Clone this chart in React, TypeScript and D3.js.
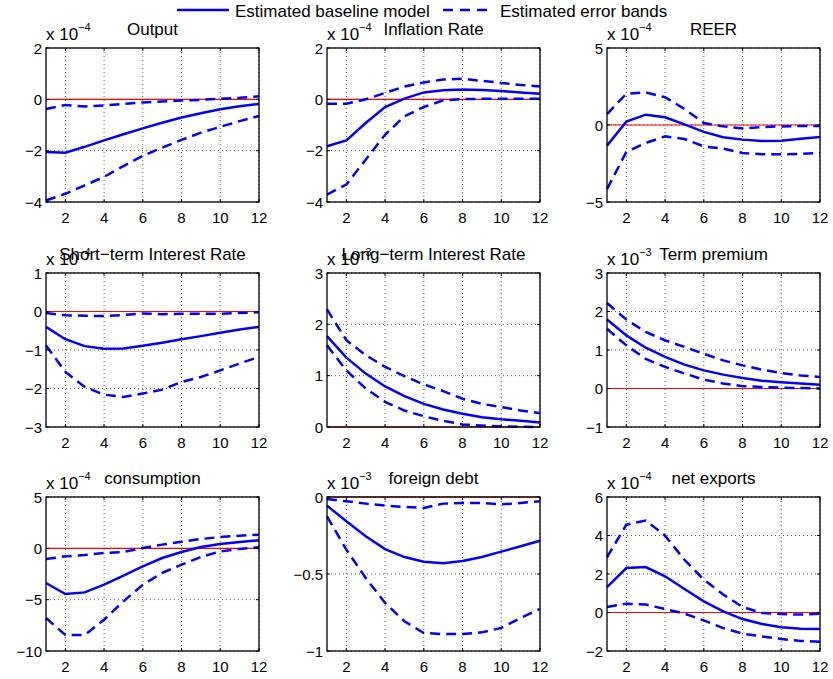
import React from 'react';
import * as d3 from 'd3';

// horizon (quarters)
const periods = [1, 2, 3, 4, 5, 6, 7, 8, 9, 10, 11, 12];
const xTicks = [2, 4, 6, 8, 10, 12];

// Output (x 1e-4)
const outputMid = [-2.05, -2.08, -1.85, -1.6, -1.36, -1.13, -0.91, -0.71, -0.54, -0.39, -0.27, -0.18];
const outputUp = [-0.38, -0.22, -0.28, -0.24, -0.18, -0.12, -0.08, -0.05, -0.02, 0.02, 0.06, 0.12];
const outputLo = [-3.94, -3.68, -3.35, -3.02, -2.6, -2.2, -1.88, -1.58, -1.3, -1.07, -0.85, -0.65];

// Inflation Rate (x 1e-4)
const inflMid = [-1.83, -1.6, -0.92, -0.3, 0.03, 0.27, 0.35, 0.38, 0.36, 0.32, 0.27, 0.22];
const inflUp = [-0.17, -0.17, 0.0, 0.25, 0.5, 0.66, 0.77, 0.8, 0.72, 0.64, 0.56, 0.5];
const inflLo = [-3.71, -3.32, -2.35, -1.38, -0.66, -0.3, -0.04, 0.01, 0.02, 0.02, 0.02, 0.02];

// REER (x 1e-4)
const reerMid = [-1.34, 0.22, 0.67, 0.5, 0.04, -0.45, -0.8, -0.95, -1.04, -1.02, -0.9, -0.78];
const reerUp = [0.71, 2.03, 2.12, 1.8, 1.04, 0.13, -0.09, -0.22, -0.13, -0.09, -0.06, -0.06];
const reerLo = [-4.16, -1.75, -1.17, -0.74, -0.91, -1.39, -1.54, -1.82, -1.9, -1.9, -1.88, -1.82];

// Short-term Interest Rate (x 1e-4)
const shortMid = [-0.4, -0.72, -0.9, -0.97, -0.96, -0.89, -0.81, -0.72, -0.64, -0.55, -0.47, -0.4];
const shortUp = [-0.04, -0.1, -0.11, -0.12, -0.09, -0.05, -0.07, -0.06, -0.06, -0.06, -0.04, -0.02];
const shortLo = [-0.88, -1.57, -1.96, -2.16, -2.22, -2.13, -2.03, -1.83, -1.7, -1.53, -1.35, -1.18];

// Long-term Interest Rate (x 1e-3)
const longMid = [1.77, 1.35, 1.04, 0.79, 0.6, 0.45, 0.34, 0.26, 0.19, 0.15, 0.12, 0.09];
const longUp = [2.29, 1.69, 1.4, 1.17, 0.99, 0.83, 0.7, 0.55, 0.45, 0.39, 0.32, 0.27];
const longLo = [1.59, 1.1, 0.75, 0.49, 0.32, 0.21, 0.12, 0.05, 0.03, 0.01, 0.005, 0.0];

// Term premium (x 1e-3)
const termMid = [1.79, 1.38, 1.06, 0.82, 0.62, 0.47, 0.36, 0.27, 0.2, 0.16, 0.13, 0.1];
const termUp = [2.22, 1.79, 1.47, 1.25, 1.08, 0.9, 0.73, 0.6, 0.49, 0.4, 0.34, 0.3];
const termLo = [1.55, 1.12, 0.77, 0.56, 0.39, 0.23, 0.13, 0.06, 0.04, 0.02, 0.01, 0.0];

// consumption (x 1e-4)
const consMid = [-3.38, -4.45, -4.29, -3.54, -2.66, -1.75, -0.94, -0.36, 0.13, 0.42, 0.62, 0.78];
const consUp = [-1.04, -0.78, -0.65, -0.45, -0.36, 0.03, 0.36, 0.65, 0.91, 1.1, 1.23, 1.33];
const consLo = [-6.79, -8.44, -8.44, -6.95, -5.16, -3.54, -2.4, -1.59, -0.84, -0.29, -0.06, 0.1];

// foreign debt (x 1e-3)
const debtMid = [-0.056, -0.158, -0.255, -0.338, -0.39, -0.42, -0.43, -0.415, -0.39, -0.355, -0.32, -0.284];
const debtUp = [-0.013, -0.028, -0.043, -0.056, -0.065, -0.071, -0.043, -0.039, -0.039, -0.048, -0.039, -0.028];
const debtLo = [-0.126, -0.342, -0.526, -0.688, -0.807, -0.883, -0.89, -0.89, -0.879, -0.85, -0.786, -0.727];

// net exports (x 1e-4)
const nxMid = [1.32, 2.31, 2.36, 1.88, 1.22, 0.58, 0.06, -0.34, -0.6, -0.77, -0.84, -0.86];
const nxUp = [2.87, 4.56, 4.78, 3.99, 2.74, 1.71, 0.93, 0.29, -0.03, -0.08, -0.11, -0.06];
const nxLo = [0.29, 0.46, 0.41, 0.18, -0.06, -0.41, -0.81, -1.1, -1.24, -1.38, -1.48, -1.52];

const panels = [
  { title: 'Output', exp: '\u22124', domain: [-4, 2], ticks: [-4, -2, 0, 2], mid: outputMid, up: outputUp, lo: outputLo },
  { title: 'Inflation Rate', exp: '\u22124', domain: [-4, 2], ticks: [-4, -2, 0, 2], mid: inflMid, up: inflUp, lo: inflLo },
  { title: 'REER', exp: '\u22124', domain: [-5, 5], ticks: [-5, 0, 5], mid: reerMid, up: reerUp, lo: reerLo },
  { title: 'Short\u2212term Interest Rate', exp: '\u22124', domain: [-3, 1], ticks: [-3, -2, -1, 0, 1], mid: shortMid, up: shortUp, lo: shortLo },
  { title: 'Long\u2212term Interest Rate', exp: '\u22123', domain: [0, 3], ticks: [0, 1, 2, 3], mid: longMid, up: longUp, lo: longLo },
  { title: 'Term premium', exp: '\u22123', domain: [-1, 3], ticks: [-1, 0, 1, 2, 3], mid: termMid, up: termUp, lo: termLo },
  { title: 'consumption', exp: '\u22124', domain: [-10, 5], ticks: [-10, -5, 0, 5], mid: consMid, up: consUp, lo: consLo },
  { title: 'foreign debt', exp: '\u22123', domain: [-1, 0], ticks: [-1, -0.5, 0], mid: debtMid, up: debtUp, lo: debtLo },
  { title: 'net exports', exp: '\u22124', domain: [-2, 6], ticks: [-2, 0, 2, 4, 6], mid: nxMid, up: nxUp, lo: nxLo },
];

const colX = [46, 327, 607];
const rowY = [48, 273, 497];
const pw = 213;
const ph = 154;
const font = '"Liberation Sans", Arial, Helvetica, sans-serif';
const blue = '#0000ff';

const fmt = (v: number) => (v < 0 ? '\u2212' + String(Math.abs(v)) : String(v));

function Panel({ p, left, top }: any) {
  const x = d3.scaleLinear().domain([1, 12]).range([0, pw]);
  const y = d3.scaleLinear().domain(p.domain).range([ph, 0]);
  const line = d3
    .line<number>()
    .x((d, i) => x(periods[i]))
    .y((d) => y(d));
  const tl = 3;
  return (
    <g transform={`translate(${left},${top})`}>
      <rect x={0} y={0} width={pw} height={ph} fill="#fff" />
      {xTicks.map((t) => (
        <line key={'gx' + t} x1={x(t)} x2={x(t)} y1={0} y2={ph} stroke="#333" strokeWidth={0.8} strokeDasharray="1,3" />
      ))}
      {p.ticks.map((t: number) => (
        <line key={'gy' + t} x1={0} x2={pw} y1={y(t)} y2={y(t)} stroke="#333" strokeWidth={0.8} strokeDasharray="1,3" />
      ))}
      <line x1={x(1)} x2={x(12)} y1={y(0)} y2={y(0)} stroke="#ff0000" strokeWidth={1.2} />
      <path d={line(p.up) || ''} fill="none" stroke={blue} strokeWidth={2.5} strokeDasharray="10,6" />
      <path d={line(p.lo) || ''} fill="none" stroke={blue} strokeWidth={2.5} strokeDasharray="10,6" />
      <path d={line(p.mid) || ''} fill="none" stroke={blue} strokeWidth={2.5} />
      {xTicks.map((t) => (
        <g key={'tx' + t}>
          <line x1={x(t)} x2={x(t)} y1={ph} y2={ph - tl} stroke="#000" />
          <line x1={x(t)} x2={x(t)} y1={0} y2={tl} stroke="#000" />
          <text x={x(t)} y={ph + 21} textAnchor="middle" fontSize={15} fontFamily={font}>
            {t}
          </text>
        </g>
      ))}
      {p.ticks.map((t: number) => (
        <g key={'ty' + t}>
          <line x1={0} x2={tl} y1={y(t)} y2={y(t)} stroke="#000" />
          <line x1={pw} x2={pw - tl} y1={y(t)} y2={y(t)} stroke="#000" />
          <text x={-4} y={y(t) + 5.5} textAnchor="end" fontSize={15} fontFamily={font}>
            {fmt(t)}
          </text>
        </g>
      ))}
      <rect x={0} y={0} width={pw} height={ph} fill="none" stroke="#000" strokeWidth={1.3} />
      <text x={0} y={-8} fontSize={17} fontFamily={font}>
        x 10
        <tspan dy={-9} fontSize={11}>
          {p.exp}
        </tspan>
      </text>
      <text x={pw / 2} y={-13} textAnchor="middle" fontSize={17} fontFamily={font}>
        {p.title}
      </text>
    </g>
  );
}

export default function App() {
  return (
    <svg width={833} height={679} style={{ display: 'block', position: 'absolute', left: 0, top: 0 }}>
      <rect x={0} y={0} width={833} height={679} fill="#fff" />
      {panels.map((p, i) => (
        <Panel key={p.title} p={p} left={colX[i % 3]} top={rowY[Math.floor(i / 3)]} />
      ))}
      <g fontFamily={font} fontSize={17}>
        <line x1={177} x2={229} y1={10} y2={10} stroke={blue} strokeWidth={2.5} />
        <text x={235} y={17}>Estimated baseline model</text>
        <line x1={443} x2={494} y1={10} y2={10} stroke={blue} strokeWidth={2.5} strokeDasharray="10,7" />
        <text x={500} y={17}>Estimated error bands</text>
      </g>
    </svg>
  );
}
